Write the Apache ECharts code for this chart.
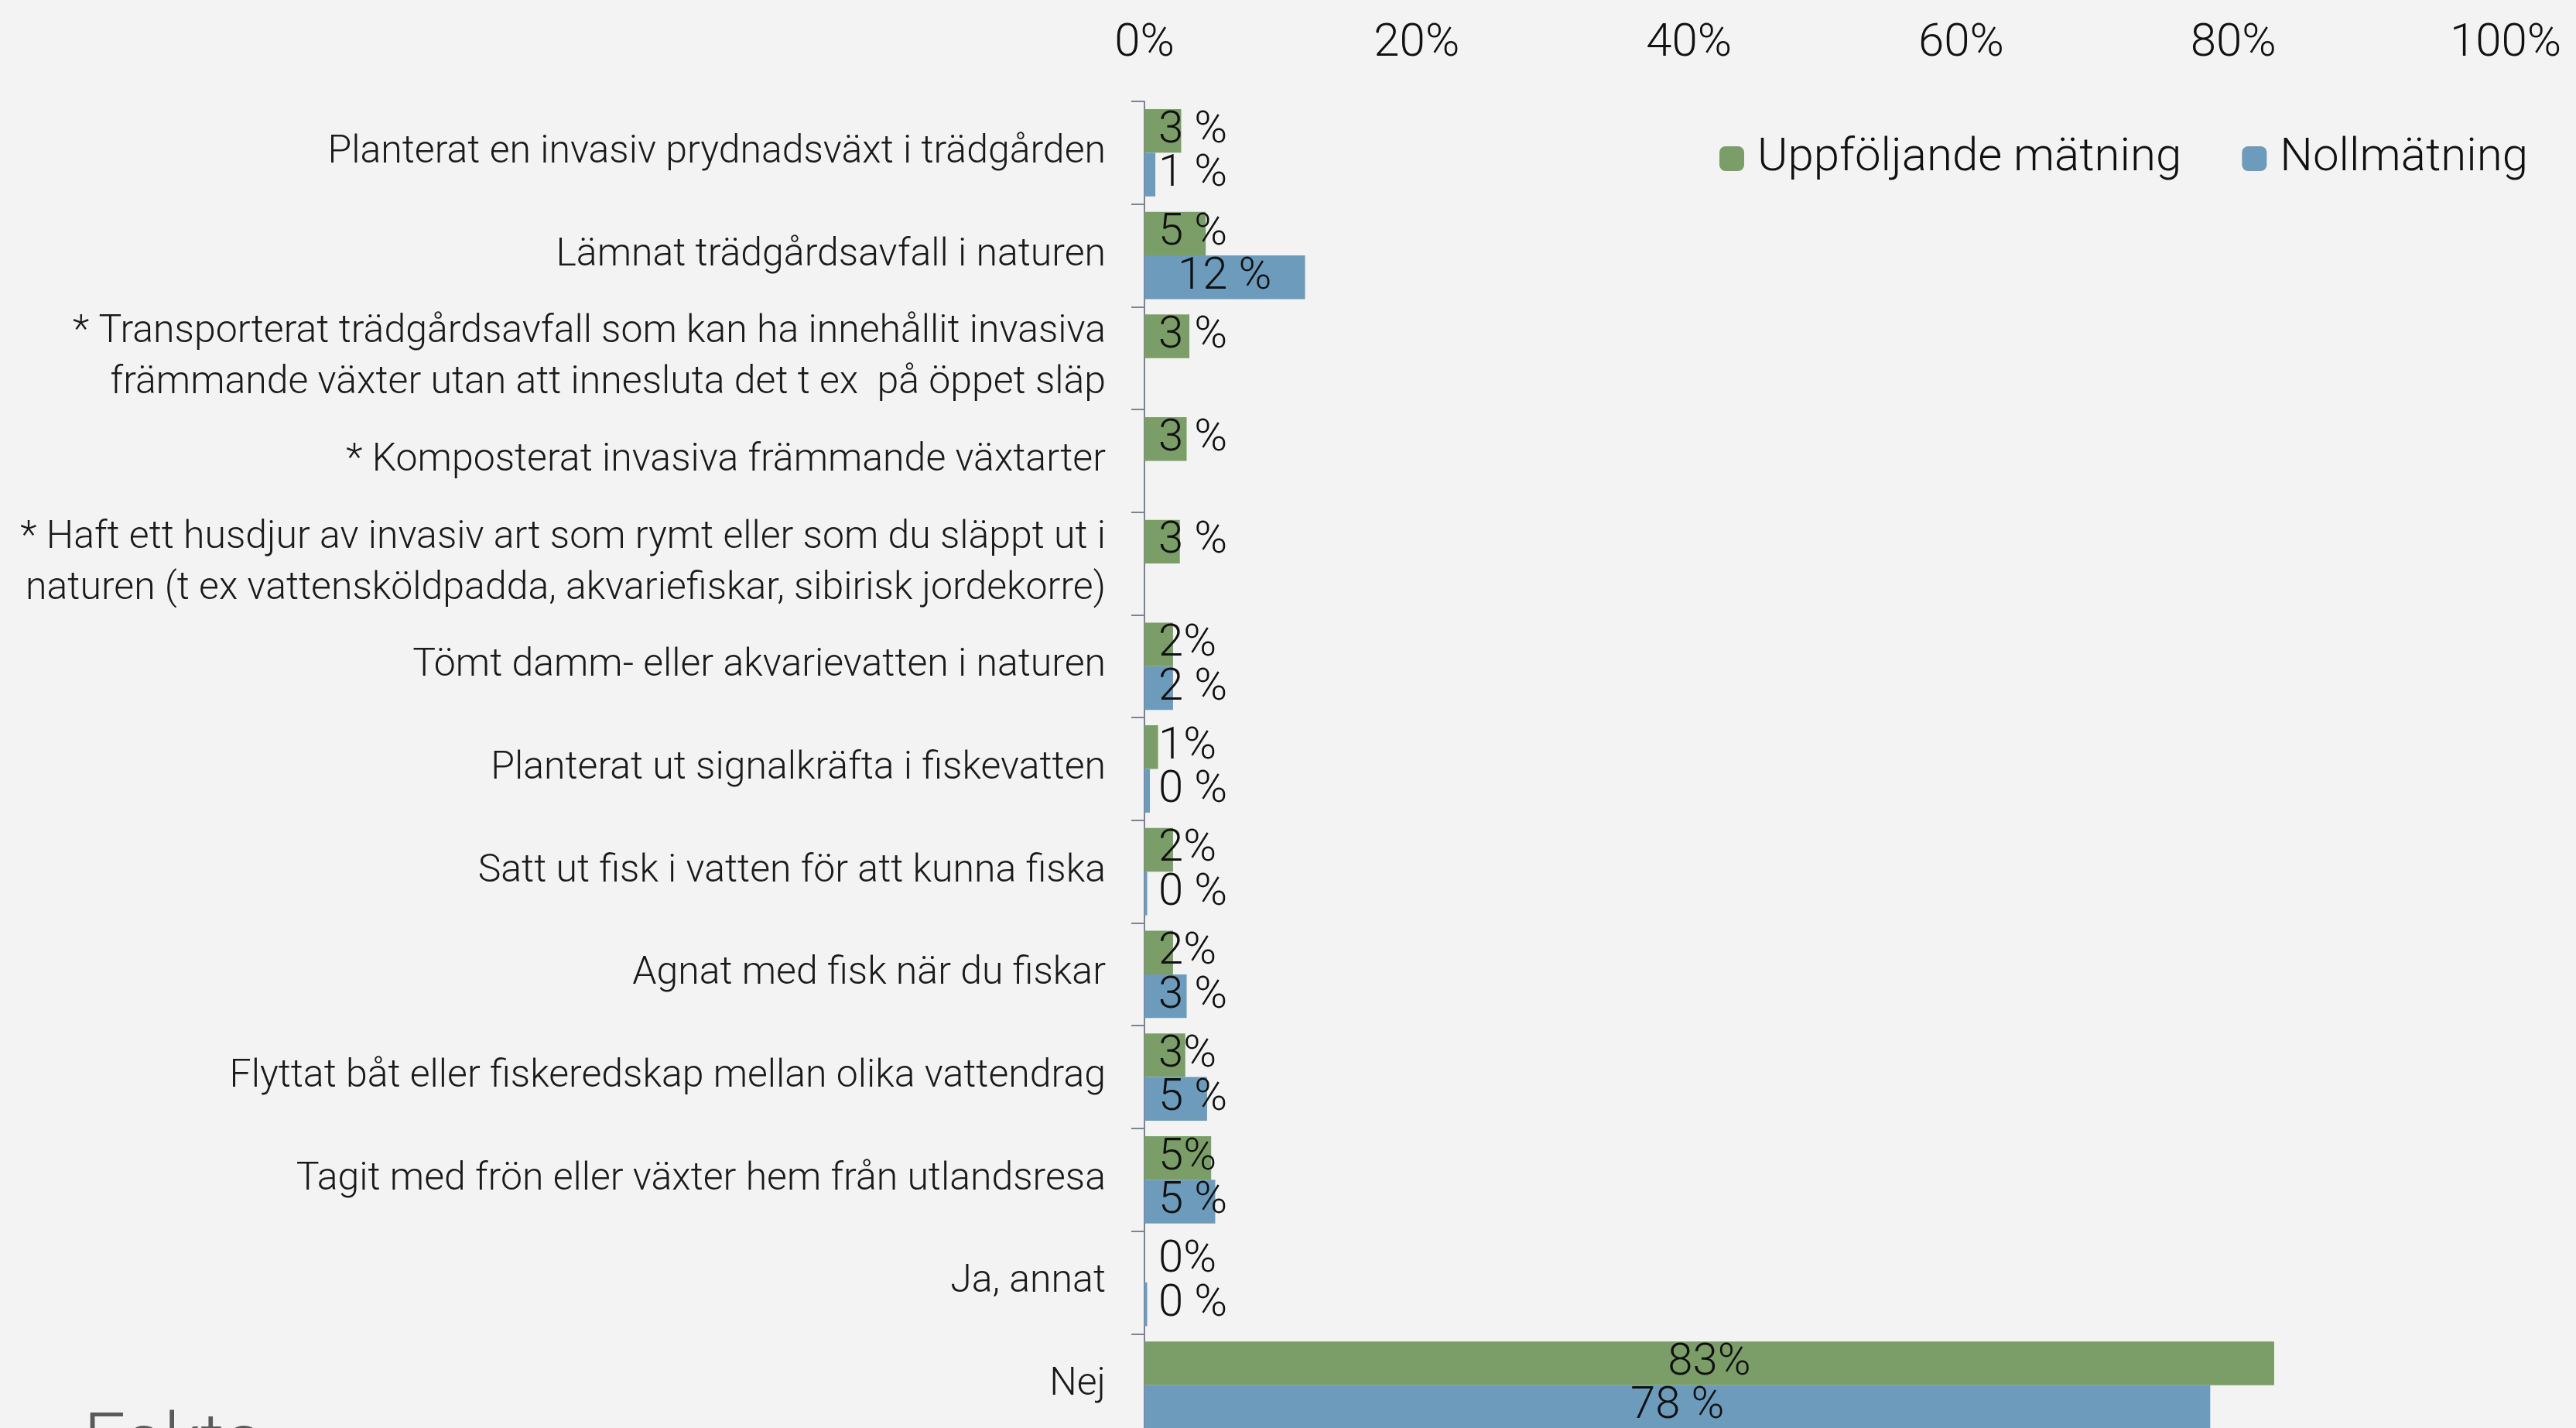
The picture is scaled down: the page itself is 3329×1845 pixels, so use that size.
<!DOCTYPE html>
<head>
    <meta charset="utf-8">
    <title>Invasiva arter</title>
    <script src="https://cdn.jsdelivr.net/npm/echarts@6/dist/echarts.min.js"></script>
    <style>
        html, body { margin: 0; padding: 0; background: #f3f3f3; }
        #chart { width: 3329px; height: 1845px; }
    </style>
</head>
<body>
	<div id="chart"></div>
	<script type="text/javascript">
        // kategorier, uppifrån och ned
        var categories = [
            'Planterat en invasiv prydnadsväxt i trädgården',
            'Lämnat trädgårdsavfall i naturen',
            '* Transporterat trädgårdsavfall som kan ha innehållit invasiva\nfrämmande växter utan att innesluta det t ex  på öppet släp',
            '* Komposterat invasiva främmande växtarter',
            '* Haft ett husdjur av invasiv art som rymt eller som du släppt ut i\nnaturen (t ex vattensköldpadda, akvariefiskar, sibirisk jordekorre)',
            'Tömt damm- eller akvarievatten i naturen',
            'Planterat ut signalkräfta i fiskevatten',
            'Satt ut fisk i vatten för att kunna fiska',
            'Agnat med fisk när du fiskar',
            'Flyttat båt eller fiskeredskap mellan olika vattendrag',
            'Tagit med frön eller växter hem från utlandsresa',
            'Ja, annat',
            'Nej'
        ];
        var uppfoljande = [2.7, 4.5, 3.3, 3.1, 2.6, 2.1, 1.0, 2.1, 2.1, 3.0, 4.9, 0, 83.0];
        var nollmatning = [0.8, 11.8, null, null, null, 2.1, 0.4, 0.2, 3.1, 4.6, 5.2, 0.2, 78.3];
        var uppfoljandeLabels = ['3 %', '5 %', '3 %', '3 %', '3 %', '2%', '1%', '2%', '2%', '3%', '5%', '0%', '83%'];
        var nollLabels = ['1 %', '12 %', '', '', '', '2 %', '0 %', '0 %', '3 %', '5 %', '5 %', '0 %', '78 %'];
        var xTicks = [0, 20, 40, 60, 80, 100];

        var FONT = 'Roboto';
        var GREEN = '#7b9e68', BLUE = '#6d9bbc';

        function barData(values) {
            var out = [];
            for (var i = 0; i < values.length; i++) {
                if (values[i] === null) { out.push('-'); continue; }
                out.push({
                    value: values[i],
                    label: values[i] > 10 ? {position: 'inside'} : {position: 'insideLeft', distance: 18}
                });
            }
            return out;
        }

        var myChart = echarts.init(document.getElementById('chart'));
        var option = {
            backgroundColor: '#f3f3f3',
            textStyle: {fontFamily: FONT, fontWeight: 300},
            legend: {
                data: ['Uppföljande mätning', 'Nollmätning'],
                right: 57,
                top: 170,
                itemWidth: 32,
                itemHeight: 32,
                itemGap: 78,
                textStyle: {fontFamily: FONT, fontWeight: 300, fontSize: 60, color: '#111', padding: [0, 0, 0, 12]}
            },
            // diagrammet fortsätter under bildens nederkant
            grid: {left: 1479, right: 91, top: 131, height: 1725, outerBoundsMode: 'none', containLabel: false},
            xAxis: {
                type: 'value',
                position: 'top',
                min: xTicks[0],
                max: xTicks[xTicks.length - 1],
                interval: 20,
                axisLine: {show: false},
                axisTick: {show: false},
                splitLine: {show: false},
                axisLabel: {formatter: '{value}%', fontFamily: FONT, fontWeight: 300, fontSize: 60, color: '#111', margin: 44}
            },
            yAxis: {
                type: 'category',
                inverse: true,
                data: categories,
                axisLine: {show: true, lineStyle: {color: '#7e848f', width: 2}},
                axisTick: {show: true, length: 17, lineStyle: {color: '#7e848f', width: 2}},
                axisLabel: {fontFamily: FONT, fontWeight: 300, fontSize: 50, lineHeight: 66, color: '#1a1a1a', margin: 50, padding: [8, 0, 0, 0]}
            },
            series: [
                {
                    name: 'Uppföljande mätning',
                    type: 'bar',
                    data: barData(uppfoljande),
                    itemStyle: {color: GREEN},
                    barGap: '0%',
                    barCategoryGap: '15%',
                    label: {
                        show: true,
                        fontFamily: FONT, fontWeight: 300, fontSize: 58, color: '#111', padding: [8, 0, 0, 0],
                        formatter: function (p) { return uppfoljandeLabels[p.dataIndex]; }
                    }
                },
                {
                    name: 'Nollmätning',
                    type: 'bar',
                    data: barData(nollmatning),
                    itemStyle: {color: BLUE},
                    barGap: '0%',
                    barCategoryGap: '15%',
                    label: {
                        show: true,
                        fontFamily: FONT, fontWeight: 300, fontSize: 58, color: '#111', padding: [8, 0, 0, 0],
                        formatter: function (p) { return nollLabels[p.dataIndex]; }
                    }
                }
            ],
            graphic: [
                {
                    type: 'text',
                    left: 108,
                    top: 1822,
                    style: {text: 'Fakta', fontFamily: FONT, fontWeight: 300, fontSize: 96, fill: '#5a5a5a'}
                }
            ]
        };
        myChart.setOption(option);
    </script>
</body>
